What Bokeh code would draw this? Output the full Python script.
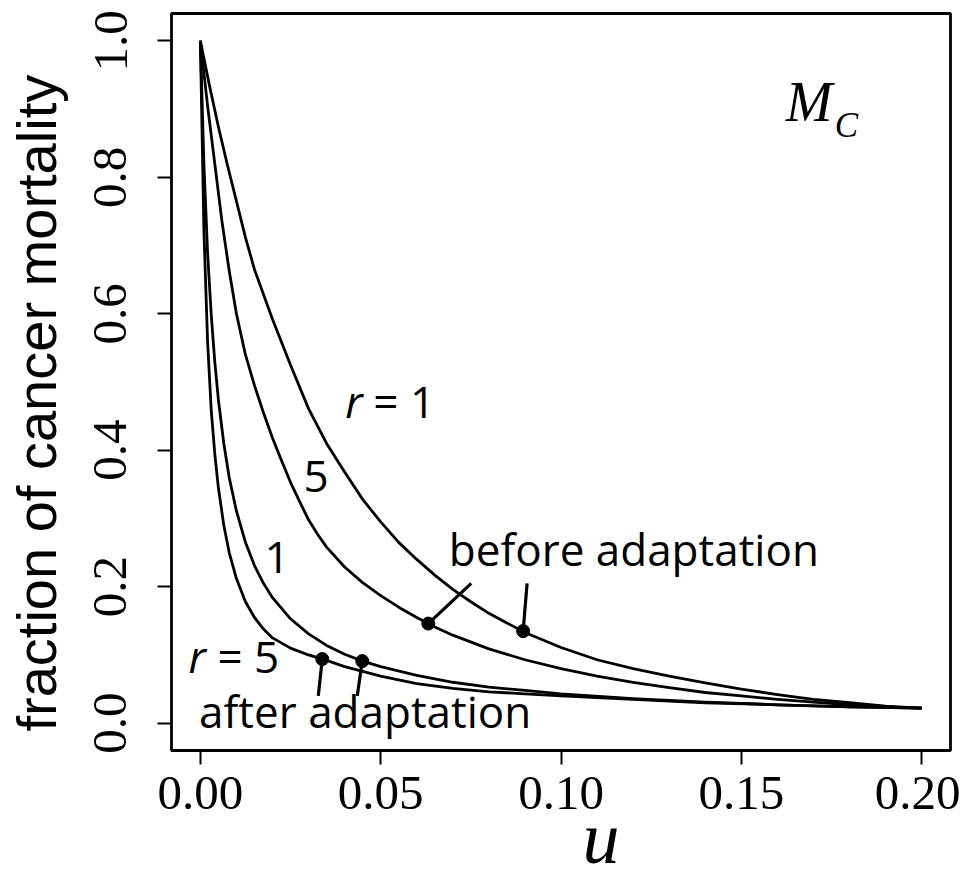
import numpy as np
from bokeh.plotting import figure
from bokeh.models import Range1d, FixedTicker, CustomJSTickFormatter
from bokeh.core.properties import value
from bokeh.embed import file_html
from bokeh.resources import INLINE

# ---------------- data ----------------
x_ticks = [0.0, 0.05, 0.10, 0.15, 0.20]
x_tick_labels = ["0.00", "0.05", "0.10", "0.15", "0.20"]
y_ticks = [0.0, 0.2, 0.4, 0.6, 0.8, 1.0]
y_tick_labels = ["0.0", "0.2", "0.4", "0.6", "0.8", "1.0"]

# r = 1, before adaptation (outermost curve)
u_r1_before = [0.0, 0.0025, 0.005, 0.0075, 0.010, 0.0125, 0.015, 0.020, 0.025, 0.030,
               0.035, 0.040, 0.045, 0.050, 0.055, 0.060, 0.065, 0.070, 0.075, 0.080,
               0.085, 0.090, 0.100, 0.110, 0.120, 0.130, 0.140, 0.150, 0.160, 0.170,
               0.180, 0.190, 0.200]
m_r1_before = [1.000, 0.935, 0.874, 0.818, 0.765, 0.712, 0.665, 0.592, 0.525, 0.461,
               0.410, 0.368, 0.328, 0.295, 0.265, 0.240, 0.217, 0.196, 0.178, 0.161,
               0.147, 0.133, 0.111, 0.093, 0.080, 0.069, 0.059, 0.050, 0.042, 0.035,
               0.030, 0.025, 0.022]

# r = 5, before adaptation
u_r5_before = [0.0, 0.002, 0.004, 0.006, 0.008, 0.010, 0.0125, 0.015, 0.0175, 0.020,
               0.0225, 0.025, 0.0275, 0.030, 0.0325, 0.035, 0.040, 0.045, 0.050, 0.055,
               0.060, 0.065, 0.070, 0.080, 0.090, 0.100, 0.110, 0.120, 0.130, 0.140,
               0.150, 0.160, 0.170, 0.180, 0.190, 0.200]
m_r5_before = [1.000, 0.905, 0.820, 0.735, 0.663, 0.600, 0.540, 0.495, 0.455, 0.418,
               0.385, 0.353, 0.325, 0.298, 0.277, 0.258, 0.229, 0.206, 0.187, 0.170,
               0.155, 0.141, 0.129, 0.109, 0.093, 0.080, 0.069, 0.060, 0.052, 0.045,
               0.040, 0.035, 0.031, 0.027, 0.024, 0.022]

# r = 1, after adaptation
u_r1_after = [0.0, 0.001, 0.002, 0.003, 0.004, 0.005, 0.0065, 0.008, 0.010, 0.0125,
              0.015, 0.0175, 0.020, 0.025, 0.030, 0.035, 0.040, 0.045, 0.050, 0.060,
              0.070, 0.080, 0.090, 0.100, 0.120, 0.140, 0.160, 0.180, 0.200]
m_r1_after = [1.000, 0.818, 0.690, 0.600, 0.530, 0.474, 0.410, 0.360, 0.311, 0.265,
              0.231, 0.205, 0.184, 0.153, 0.131, 0.114, 0.101, 0.091, 0.083, 0.070,
              0.060, 0.053, 0.048, 0.043, 0.036, 0.031, 0.027, 0.024, 0.022]

# r = 5, after adaptation
u_r5_after = [0.0, 0.001, 0.002, 0.003, 0.004, 0.005, 0.0065, 0.008, 0.010, 0.0125,
              0.015, 0.0175, 0.020, 0.025, 0.030, 0.035, 0.040, 0.045, 0.050, 0.060,
              0.070, 0.080, 0.090, 0.100, 0.120, 0.140, 0.160, 0.180, 0.200]
m_r5_after = [1.000, 0.720, 0.560, 0.460, 0.395, 0.345, 0.290, 0.250, 0.212, 0.178,
              0.155, 0.138, 0.125, 0.110, 0.100, 0.092, 0.083, 0.076, 0.069, 0.058,
              0.051, 0.046, 0.043, 0.040, 0.035, 0.030, 0.027, 0.024, 0.022]

# marked points (before / after adaptation)
dot_u = [0.0895, 0.0632, 0.0449, 0.0338]
dot_m = [0.135, 0.146, 0.091, 0.094]
# pointer line ends (from the dots toward their labels)
ptr_u = [0.0906, 0.0751, 0.0435, 0.0327]
ptr_m = [0.205, 0.205, 0.040, 0.040]

# ---------------- figure ----------------
W, H = 960, 881
p = figure(width=W, height=H, output_backend="svg", toolbar_location=None,
           x_range=Range1d(-0.008, 0.208), y_range=Range1d(-0.04, 1.04),
           min_border_left=171, min_border_right=10, min_border_top=13, min_border_bottom=131)
p.background_fill_color = "white"
p.border_fill_color = "white"
p.grid.visible = False
p.outline_line_color = "black"
p.outline_line_width = 2.8

serif = "Liberation Serif"
sans = "Open Sans"

for ax, ticks, labels in ((p.xaxis[0], x_ticks, x_tick_labels), (p.yaxis[0], y_ticks, y_tick_labels)):
    ax.ticker = FixedTicker(ticks=ticks)
    ax.formatter = CustomJSTickFormatter(args=dict(t=ticks, l=labels),
        code="for (let i=0;i<t.length;i++){ if (Math.abs(t[i]-tick)<1e-9) return l[i]; } return '';")
    ax.axis_line_color = None
    ax.major_tick_line_color = "black"
    ax.major_tick_line_width = 2
    ax.major_tick_in = 0
    ax.major_tick_out = 14
    ax.minor_tick_line_color = None
    ax.major_label_text_font = serif
    ax.major_label_text_font_size = "49px"
    ax.major_label_text_color = "black"

p.xaxis.major_label_standoff = 12
p.xaxis.axis_label = "\u00a0\u00a0\u00a0\u00a0\u200au"
p.xaxis.axis_label_text_font = serif
p.xaxis.axis_label_text_font_style = "italic"
p.xaxis.axis_label_text_font_size = "74px"
p.xaxis.axis_label_standoff = -15
p.xaxis.axis_label_text_color = "black"

p.yaxis.major_label_orientation = "parallel"
p.yaxis.major_label_standoff = 31
p.yaxis.axis_label = "fraction of cancer mortality\u00a0\u00a0\u2009"
p.yaxis.axis_label_text_font = "Liberation Sans"
p.yaxis.axis_label_text_font_style = "normal"
p.yaxis.axis_label_text_font_size = "56px"
p.yaxis.axis_label_standoff = 24
p.yaxis.axis_label_text_color = "black"

for uu, mm in ((u_r1_before, m_r1_before), (u_r5_before, m_r5_before),
               (u_r1_after, m_r1_after), (u_r5_after, m_r5_after)):
    p.line(uu, mm, line_color="black", line_width=2.8, line_join="round")

p.segment(x0=dot_u, y0=dot_m, x1=ptr_u, y1=ptr_m, line_color="black", line_width=3.2)
p.scatter(dot_u, dot_m, size=13, marker="circle", fill_color="black", line_color="black")

# ---------------- text annotations ----------------
fs = "44px"
def txt(x, y, s, align="left", style="normal", font=sans, size=fs, xo=0, yo=-17):
    p.text(x=[x], y=[y], text=[s], text_font=value(font), text_font_size=size,
           text_font_style=style, text_align=align, text_baseline="alphabetic",
           text_color="black", x_offset=xo, y_offset=yo)

txt(0.0402, 0.447, "r", style="italic")
txt(0.0402, 0.447, "= 1", xo=28)
txt(0.0321, 0.337, "5", align="center")
txt(0.0213, 0.218, "1", align="center")
txt(-0.0033, 0.073, "r", style="italic")
txt(-0.0033, 0.073, "= 5", xo=29)
txt(0.0457, -0.007, "after adaptation", align="center")
txt(0.1202, 0.230, "before adaptation", align="center")
txt(0.1623, 0.880, "M", style="italic", font=serif, size="56px", yo=-21)
txt(0.1623, 0.880, "C", style="italic", font=serif, size="35px", xo=49, yo=3)

open("out.html", "w").write(file_html(p, INLINE))
